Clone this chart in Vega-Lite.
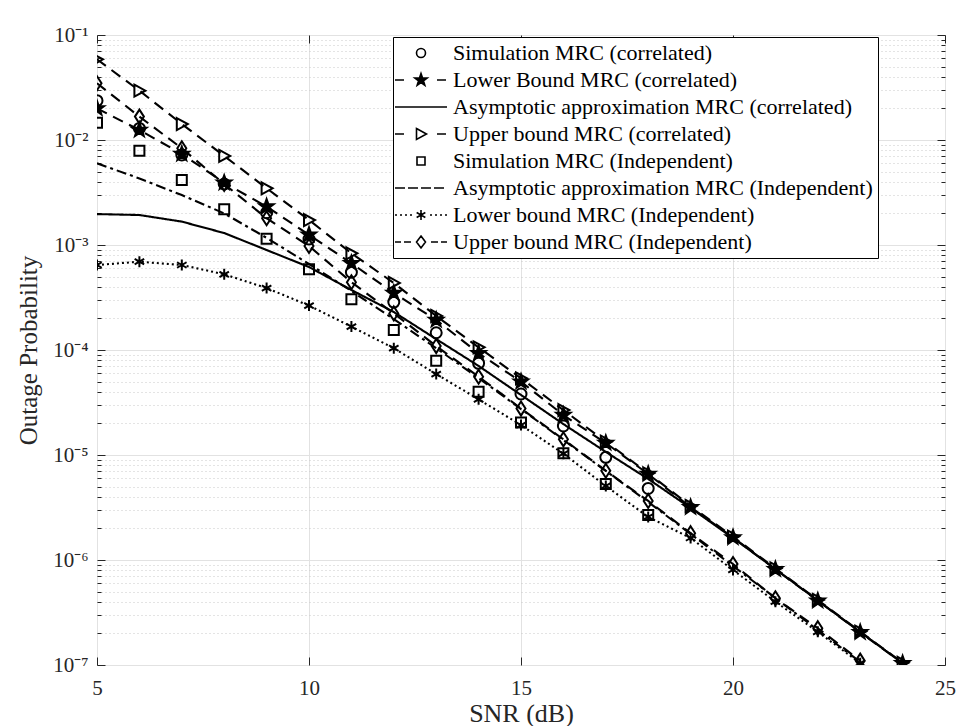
{
  "$schema": "https://vega.github.io/schema/vega-lite/v6.json",
  "width": 848,
  "height": 630,
  "autosize": {"type": "none"},
  "padding": {"left": 97, "top": 35, "right": 12, "bottom": 61},
  "background": "white",
  "config": {
    "font": "Liberation Serif",
    "view": {"stroke": "#262626", "strokeWidth": 1},
    "legend": {
      "orient": "none", "legendX": 296, "legendY": 2, "title": null,
      "labelFont": "Liberation Serif", "labelFontSize": 22, "labelColor": "black", "labelLimit": 600,
      "symbolSize": 100, "symbolStrokeWidth": 1.6, "symbolStrokeColor": "black", "symbolOpacity": 1,
      "symbolOffset": 12, "labelOffset": 21, "padding": 5, "rowPadding": 5,
      "strokeColor": "black", "fillColor": "white", "zindex": 2
    }
  },
  "data": {"values": [
    {"snr":5,"p":0.0237,"series":"Simulation MRC (correlated)"},
    {"snr":6,"p":0.0129,"series":"Simulation MRC (correlated)"},
    {"snr":7,"p":0.0072,"series":"Simulation MRC (correlated)"},
    {"snr":8,"p":0.00381,"series":"Simulation MRC (correlated)"},
    {"snr":9,"p":0.00203,"series":"Simulation MRC (correlated)"},
    {"snr":10,"p":0.00114,"series":"Simulation MRC (correlated)"},
    {"snr":11,"p":0.00055,"series":"Simulation MRC (correlated)"},
    {"snr":12,"p":0.000286,"series":"Simulation MRC (correlated)"},
    {"snr":13,"p":0.000146,"series":"Simulation MRC (correlated)"},
    {"snr":14,"p":7.47e-5,"series":"Simulation MRC (correlated)"},
    {"snr":15,"p":3.81e-5,"series":"Simulation MRC (correlated)"},
    {"snr":16,"p":1.89e-5,"series":"Simulation MRC (correlated)"},
    {"snr":17,"p":9.5e-6,"series":"Simulation MRC (correlated)"},
    {"snr":18,"p":4.8e-6,"series":"Simulation MRC (correlated)"},

    {"snr":5,"p":0.02,"series":"Lower Bound MRC (correlated)"},
    {"snr":6,"p":0.01245,"series":"Lower Bound MRC (correlated)"},
    {"snr":7,"p":0.00736,"series":"Lower Bound MRC (correlated)"},
    {"snr":8,"p":0.00392,"series":"Lower Bound MRC (correlated)"},
    {"snr":9,"p":0.00232,"series":"Lower Bound MRC (correlated)"},
    {"snr":10,"p":0.00125,"series":"Lower Bound MRC (correlated)"},
    {"snr":11,"p":0.00067,"series":"Lower Bound MRC (correlated)"},
    {"snr":12,"p":0.000349,"series":"Lower Bound MRC (correlated)"},
    {"snr":13,"p":0.000193,"series":"Lower Bound MRC (correlated)"},
    {"snr":14,"p":9.31e-5,"series":"Lower Bound MRC (correlated)"},
    {"snr":15,"p":4.99e-5,"series":"Lower Bound MRC (correlated)"},
    {"snr":16,"p":2.4e-5,"series":"Lower Bound MRC (correlated)"},
    {"snr":17,"p":1.3e-5,"series":"Lower Bound MRC (correlated)"},
    {"snr":18,"p":6.59e-6,"series":"Lower Bound MRC (correlated)"},
    {"snr":19,"p":3.18e-6,"series":"Lower Bound MRC (correlated)"},
    {"snr":20,"p":1.64e-6,"series":"Lower Bound MRC (correlated)"},
    {"snr":21,"p":8.15e-7,"series":"Lower Bound MRC (correlated)"},
    {"snr":22,"p":4.09e-7,"series":"Lower Bound MRC (correlated)"},
    {"snr":23,"p":2.05e-7,"series":"Lower Bound MRC (correlated)"},
    {"snr":24,"p":1.04e-7,"series":"Lower Bound MRC (correlated)"},

    {"snr":5,"p":0.00197,"series":"Asymptotic approximation MRC (correlated)"},
    {"snr":6,"p":0.00193,"series":"Asymptotic approximation MRC (correlated)"},
    {"snr":7,"p":0.00167,"series":"Asymptotic approximation MRC (correlated)"},
    {"snr":8,"p":0.0013,"series":"Asymptotic approximation MRC (correlated)"},
    {"snr":9,"p":0.000896,"series":"Asymptotic approximation MRC (correlated)"},
    {"snr":10,"p":0.000617,"series":"Asymptotic approximation MRC (correlated)"},
    {"snr":11,"p":0.000373,"series":"Asymptotic approximation MRC (correlated)"},
    {"snr":12,"p":0.00023,"series":"Asymptotic approximation MRC (correlated)"},
    {"snr":13,"p":0.000127,"series":"Asymptotic approximation MRC (correlated)"},
    {"snr":14,"p":7.05e-5,"series":"Asymptotic approximation MRC (correlated)"},
    {"snr":15,"p":3.73e-5,"series":"Asymptotic approximation MRC (correlated)"},
    {"snr":16,"p":1.97e-5,"series":"Asymptotic approximation MRC (correlated)"},
    {"snr":17,"p":1.07e-5,"series":"Asymptotic approximation MRC (correlated)"},
    {"snr":18,"p":5.91e-6,"series":"Asymptotic approximation MRC (correlated)"},
    {"snr":19,"p":3.13e-6,"series":"Asymptotic approximation MRC (correlated)"},
    {"snr":20,"p":1.62e-6,"series":"Asymptotic approximation MRC (correlated)"},
    {"snr":21,"p":8.2e-7,"series":"Asymptotic approximation MRC (correlated)"},
    {"snr":22,"p":4.11e-7,"series":"Asymptotic approximation MRC (correlated)"},
    {"snr":23,"p":2.06e-7,"series":"Asymptotic approximation MRC (correlated)"},
    {"snr":24,"p":1.04e-7,"series":"Asymptotic approximation MRC (correlated)"},

    {"snr":5,"p":0.0587,"series":"Upper bound MRC (correlated)"},
    {"snr":6,"p":0.0295,"series":"Upper bound MRC (correlated)"},
    {"snr":7,"p":0.0142,"series":"Upper bound MRC (correlated)"},
    {"snr":8,"p":0.00705,"series":"Upper bound MRC (correlated)"},
    {"snr":9,"p":0.00347,"series":"Upper bound MRC (correlated)"},
    {"snr":10,"p":0.00173,"series":"Upper bound MRC (correlated)"},
    {"snr":11,"p":0.000834,"series":"Upper bound MRC (correlated)"},
    {"snr":12,"p":0.000435,"series":"Upper bound MRC (correlated)"},
    {"snr":13,"p":0.000211,"series":"Upper bound MRC (correlated)"},
    {"snr":14,"p":0.000106,"series":"Upper bound MRC (correlated)"},
    {"snr":15,"p":5.37e-5,"series":"Upper bound MRC (correlated)"},
    {"snr":16,"p":2.68e-5,"series":"Upper bound MRC (correlated)"},
    {"snr":17,"p":1.34e-5,"series":"Upper bound MRC (correlated)"},
    {"snr":18,"p":6.7e-6,"series":"Upper bound MRC (correlated)"},
    {"snr":19,"p":3.27e-6,"series":"Upper bound MRC (correlated)"},
    {"snr":20,"p":1.67e-6,"series":"Upper bound MRC (correlated)"},
    {"snr":21,"p":8.3e-7,"series":"Upper bound MRC (correlated)"},
    {"snr":22,"p":4.16e-7,"series":"Upper bound MRC (correlated)"},
    {"snr":23,"p":2.08e-7,"series":"Upper bound MRC (correlated)"},
    {"snr":24,"p":1.05e-7,"series":"Upper bound MRC (correlated)"},

    {"snr":5,"p":0.0146,"series":"Simulation MRC (Independent)"},
    {"snr":6,"p":0.0079,"series":"Simulation MRC (Independent)"},
    {"snr":7,"p":0.00416,"series":"Simulation MRC (Independent)"},
    {"snr":8,"p":0.00219,"series":"Simulation MRC (Independent)"},
    {"snr":9,"p":0.00115,"series":"Simulation MRC (Independent)"},
    {"snr":10,"p":0.000587,"series":"Simulation MRC (Independent)"},
    {"snr":11,"p":0.000304,"series":"Simulation MRC (Independent)"},
    {"snr":12,"p":0.000155,"series":"Simulation MRC (Independent)"},
    {"snr":13,"p":7.9e-5,"series":"Simulation MRC (Independent)"},
    {"snr":14,"p":4.01e-5,"series":"Simulation MRC (Independent)"},
    {"snr":15,"p":2.04e-5,"series":"Simulation MRC (Independent)"},
    {"snr":16,"p":1.04e-5,"series":"Simulation MRC (Independent)"},
    {"snr":17,"p":5.3e-6,"series":"Simulation MRC (Independent)"},
    {"snr":18,"p":2.68e-6,"series":"Simulation MRC (Independent)"},

    {"snr":5,"p":0.006,"series":"Asymptotic approximation MRC (Independent)"},
    {"snr":6,"p":0.0043,"series":"Asymptotic approximation MRC (Independent)"},
    {"snr":7,"p":0.00299,"series":"Asymptotic approximation MRC (Independent)"},
    {"snr":8,"p":0.002,"series":"Asymptotic approximation MRC (Independent)"},
    {"snr":9,"p":0.00117,"series":"Asymptotic approximation MRC (Independent)"},
    {"snr":10,"p":0.000659,"series":"Asymptotic approximation MRC (Independent)"},
    {"snr":11,"p":0.000365,"series":"Asymptotic approximation MRC (Independent)"},
    {"snr":12,"p":0.000197,"series":"Asymptotic approximation MRC (Independent)"},
    {"snr":13,"p":0.000104,"series":"Asymptotic approximation MRC (Independent)"},
    {"snr":14,"p":5.41e-5,"series":"Asymptotic approximation MRC (Independent)"},
    {"snr":15,"p":2.74e-5,"series":"Asymptotic approximation MRC (Independent)"},
    {"snr":16,"p":1.39e-5,"series":"Asymptotic approximation MRC (Independent)"},
    {"snr":17,"p":7.05e-6,"series":"Asymptotic approximation MRC (Independent)"},
    {"snr":18,"p":3.57e-6,"series":"Asymptotic approximation MRC (Independent)"},
    {"snr":19,"p":1.77e-6,"series":"Asymptotic approximation MRC (Independent)"},
    {"snr":20,"p":8.77e-7,"series":"Asymptotic approximation MRC (Independent)"},
    {"snr":21,"p":4.35e-7,"series":"Asymptotic approximation MRC (Independent)"},
    {"snr":22,"p":2.15e-7,"series":"Asymptotic approximation MRC (Independent)"},
    {"snr":23,"p":1.07e-7,"series":"Asymptotic approximation MRC (Independent)"},

    {"snr":5,"p":0.000645,"series":"Lower bound MRC (Independent)"},
    {"snr":6,"p":0.000693,"series":"Lower bound MRC (Independent)"},
    {"snr":7,"p":0.000645,"series":"Lower bound MRC (Independent)"},
    {"snr":8,"p":0.000526,"series":"Lower bound MRC (Independent)"},
    {"snr":9,"p":0.000389,"series":"Lower bound MRC (Independent)"},
    {"snr":10,"p":0.000265,"series":"Lower bound MRC (Independent)"},
    {"snr":11,"p":0.000167,"series":"Lower bound MRC (Independent)"},
    {"snr":12,"p":0.000104,"series":"Lower bound MRC (Independent)"},
    {"snr":13,"p":5.9e-5,"series":"Lower bound MRC (Independent)"},
    {"snr":14,"p":3.39e-5,"series":"Lower bound MRC (Independent)"},
    {"snr":15,"p":1.93e-5,"series":"Lower bound MRC (Independent)"},
    {"snr":16,"p":1.03e-5,"series":"Lower bound MRC (Independent)"},
    {"snr":17,"p":5.07e-6,"series":"Lower bound MRC (Independent)"},
    {"snr":18,"p":2.57e-6,"series":"Lower bound MRC (Independent)"},
    {"snr":19,"p":1.62e-6,"series":"Lower bound MRC (Independent)"},
    {"snr":20,"p":8.04e-7,"series":"Lower bound MRC (Independent)"},
    {"snr":21,"p":4.01e-7,"series":"Lower bound MRC (Independent)"},
    {"snr":22,"p":2.07e-7,"series":"Lower bound MRC (Independent)"},
    {"snr":23,"p":1.04e-7,"series":"Lower bound MRC (Independent)"},

    {"snr":5,"p":0.0347,"series":"Upper bound MRC (Independent)"},
    {"snr":6,"p":0.0167,"series":"Upper bound MRC (Independent)"},
    {"snr":7,"p":0.00834,"series":"Upper bound MRC (Independent)"},
    {"snr":8,"p":0.00381,"series":"Upper bound MRC (Independent)"},
    {"snr":9,"p":0.0018,"series":"Upper bound MRC (Independent)"},
    {"snr":10,"p":0.000978,"series":"Upper bound MRC (Independent)"},
    {"snr":11,"p":0.000442,"series":"Upper bound MRC (Independent)"},
    {"snr":12,"p":0.000223,"series":"Upper bound MRC (Independent)"},
    {"snr":13,"p":0.000109,"series":"Upper bound MRC (Independent)"},
    {"snr":14,"p":5.57e-5,"series":"Upper bound MRC (Independent)"},
    {"snr":15,"p":2.77e-5,"series":"Upper bound MRC (Independent)"},
    {"snr":16,"p":1.41e-5,"series":"Upper bound MRC (Independent)"},
    {"snr":17,"p":7.08e-6,"series":"Upper bound MRC (Independent)"},
    {"snr":18,"p":3.65e-6,"series":"Upper bound MRC (Independent)"},
    {"snr":19,"p":1.8e-6,"series":"Upper bound MRC (Independent)"},
    {"snr":20,"p":9.16e-7,"series":"Upper bound MRC (Independent)"},
    {"snr":21,"p":4.32e-7,"series":"Upper bound MRC (Independent)"},
    {"snr":22,"p":2.24e-7,"series":"Upper bound MRC (Independent)"},
    {"snr":23,"p":1.1e-7,"series":"Upper bound MRC (Independent)"}
  ]},
  "resolve": {
    "scale": {"shape": "independent", "fill": "independent", "strokeDash": "independent"},
    "axis": {"x": "independent", "y": "independent"}
  },
  "layer": [
    {
      "transform": [{"filter": "indexof(datum.series, 'Simulation') < 0"}],
      "mark": {"type": "line", "color": "black", "strokeWidth": 2.1, "clip": true},
      "encoding": {
        "x": {"field": "snr", "type": "quantitative",
          "scale": {"domain": [5, 25], "nice": false, "zero": false},
          "axis": {"orient": "bottom", "title": "SNR (dB)", "values": [5, 10, 15, 20, 25],
            "labelFlush": false, "labelFontSize": 21, "labelColor": "#262626", "labelPadding": 20,
            "tickSize": -8, "tickColor": "#262626", "domain": false,
            "grid": true, "gridColor": "#e2e2e2",
            "titleFontSize": 26, "titleFontWeight": "normal", "titleColor": "#262626", "titlePadding": 2}},
        "y": {"field": "p", "type": "quantitative",
          "scale": {"type": "log", "domain": [1e-7, 0.1], "nice": false},
          "axis": {"orient": "left", "title": "Outage Probability",
            "values": [1e-7,2e-7,3e-7,4e-7,5e-7,6e-7,7e-7,8e-7,9e-7,1e-6,2e-6,3e-6,4e-6,5e-6,6e-6,7e-6,8e-6,9e-6,1e-5,2e-5,3e-5,4e-5,5e-5,6e-5,7e-5,8e-5,9e-5,1e-4,2e-4,3e-4,4e-4,5e-4,6e-4,7e-4,8e-4,9e-4,0.001,0.002,0.003,0.004,0.005,0.006,0.007,0.008,0.009,0.01,0.02,0.03,0.04,0.05,0.06,0.07,0.08,0.09,0.1],
            "labelExpr": "abs(log(datum.value)/LN10-round(log(datum.value)/LN10))<0.000001 ? '10' + ['','⁻¹','⁻²','⁻³','⁻⁴','⁻⁵','⁻⁶','⁻⁷'][-round(log(datum.value)/LN10)] : ''",
            "labelOverlap": false, "labelFontSize": 21, "labelColor": "#262626", "labelPadding": 17,
            "tickSize": {"condition": {"test": "abs(log(datum.value)/LN10-round(log(datum.value)/LN10))<0.000001", "value": -8}, "value": -4},
            "tickColor": "#262626", "domain": false,
            "grid": true,
            "gridColor": {"condition": {"test": "abs(log(datum.value)/LN10-round(log(datum.value)/LN10))<0.000001", "value": "#e2e2e2"}, "value": "#c8c8c8"},
            "gridDash": {"condition": {"test": "abs(log(datum.value)/LN10-round(log(datum.value)/LN10))<0.000001", "value": []}, "value": [1, 3]},
            "titleFontSize": 25, "titleFontWeight": "normal", "titleColor": "#262626", "titlePadding": 11}},
        "strokeDash": {"field": "series", "type": "nominal", "legend": null,
          "scale": {"domain": ["Lower Bound MRC (correlated)", "Asymptotic approximation MRC (correlated)", "Upper bound MRC (correlated)", "Asymptotic approximation MRC (Independent)", "Lower bound MRC (Independent)", "Upper bound MRC (Independent)"],
            "range": [[11, 7], [1, 0], [11, 7], [10, 4, 3, 4], [2, 3], [11, 7]]}}
      }
    },
    {
      "transform": [{"filter": "indexof(datum.series, 'Asymptotic') < 0"}],
      "mark": {"type": "point", "stroke": "black", "strokeWidth": 2, "size": 100, "opacity": 1, "clip": true},
      "encoding": {
        "x": {"field": "snr", "type": "quantitative",
          "axis": {"orient": "top", "title": null, "values": [5, 10, 15, 20, 25], "labels": false,
            "tickSize": -8, "tickColor": "#262626", "domain": false, "grid": false}},
        "y": {"field": "p", "type": "quantitative",
          "axis": {"orient": "right", "title": null, "labels": false,
            "values": [1e-7,2e-7,3e-7,4e-7,5e-7,6e-7,7e-7,8e-7,9e-7,1e-6,2e-6,3e-6,4e-6,5e-6,6e-6,7e-6,8e-6,9e-6,1e-5,2e-5,3e-5,4e-5,5e-5,6e-5,7e-5,8e-5,9e-5,1e-4,2e-4,3e-4,4e-4,5e-4,6e-4,7e-4,8e-4,9e-4,0.001,0.002,0.003,0.004,0.005,0.006,0.007,0.008,0.009,0.01,0.02,0.03,0.04,0.05,0.06,0.07,0.08,0.09,0.1],
            "tickSize": {"condition": {"test": "abs(log(datum.value)/LN10-round(log(datum.value)/LN10))<0.000001", "value": -8}, "value": -4},
            "tickColor": "#262626", "domain": false, "grid": false}},
        "shape": {"field": "series", "type": "nominal", "legend": null,
          "scale": {"domain": ["Simulation MRC (correlated)", "Lower Bound MRC (correlated)", "Upper bound MRC (correlated)", "Simulation MRC (Independent)", "Lower bound MRC (Independent)", "Upper bound MRC (Independent)"],
            "range": [
              "M-1.1,0A1.1,1.1 0 1,0 1.1,0A1.1,1.1 0 1,0 -1.1,0Z",
              "M0,-1.5L0.353,-0.485L1.427,-0.464L0.571,0.185L0.882,1.214L0,0.6L-0.882,1.214L-0.571,0.185L-1.427,-0.464L-0.353,-0.485Z",
              "M-1,-1.2L1.2,0L-1,1.2Z",
              "M-1,-1H1V1H-1Z",
              "M0,-1.1V1.1M-0.95,-0.55L0.95,0.55M-0.95,0.55L0.95,-0.55",
              "M0,-1.4L0.9,0L0,1.4L-0.9,0Z"]}},
        "fill": {"field": "series", "type": "nominal", "legend": null,
          "scale": {"domain": ["Simulation MRC (correlated)", "Lower Bound MRC (correlated)", "Upper bound MRC (correlated)", "Simulation MRC (Independent)", "Lower bound MRC (Independent)", "Upper bound MRC (Independent)"],
            "range": ["transparent", "black", "transparent", "transparent", "transparent", "transparent"]}}
      }
    },
    {
      "transform": [{"filter": "false"}],
      "mark": {"type": "point", "stroke": "black", "strokeWidth": 1.6, "opacity": 1},
      "encoding": {
        "shape": {"field": "series", "type": "nominal",
          "legend": {"encode": {"symbols": {"update": {"stroke": {"value": "black"}, "strokeWidth": {"value": 1.6}, "opacity": {"value": 1}}}}},
          "scale": {"domain": ["Simulation MRC (correlated)", "Lower Bound MRC (correlated)", "Asymptotic approximation MRC (correlated)", "Upper bound MRC (correlated)", "Simulation MRC (Independent)", "Asymptotic approximation MRC (Independent)", "Lower bound MRC (Independent)", "Upper bound MRC (Independent)"],
            "range": [
              "M-0.9,0A0.9,0.9 0 1,0 0.9,0A0.9,0.9 0 1,0 -0.9,0Z",
              "M-5.2,0H-3.4M3.2,0H5M0,-1.3L0.306,-0.42L1.237,-0.402L0.495,0.16L0.764,1.052L0,0.52L-0.764,1.052L-0.495,0.16L-1.237,-0.402L-0.306,-0.42Z",
              "M-5.2,0H5.2",
              "M-5.2,0H-3.4M3.2,0H5M-0.9,-1.1L1.1,0L-0.9,1.1Z",
              "M-0.8,-0.8H0.8V0.8H-0.8Z",
              "M-5.2,0H-3.2M-2.6,0H-0.6M0,0H2M2.6,0H4.6",
              "M-5.2,0H-4.8M-4.2,0H-3.8M-3.2,0H-2.8M-2.2,0H-1.8M1.8,0H2.2M2.8,0H3.2M3.8,0H4.2M4.8,0H5.2M0,-1V1M-0.87,-0.5L0.87,0.5M-0.87,0.5L0.87,-0.5",
              "M-5.2,0H-4M-3.4,0H-2M2,0H3.4M4,0H5.2M0,-1.2L0.9,0L0,1.2L-0.9,0Z"]}},
        "fill": {"field": "series", "type": "nominal",
          "legend": {"encode": {"symbols": {"update": {"stroke": {"value": "black"}, "strokeWidth": {"value": 1.6}, "opacity": {"value": 1}}}}},
          "scale": {"domain": ["Simulation MRC (correlated)", "Lower Bound MRC (correlated)", "Asymptotic approximation MRC (correlated)", "Upper bound MRC (correlated)", "Simulation MRC (Independent)", "Asymptotic approximation MRC (Independent)", "Lower bound MRC (Independent)", "Upper bound MRC (Independent)"],
            "range": ["transparent", "black", "transparent", "transparent", "transparent", "transparent", "transparent", "transparent"]}}
      }
    }
  ]
}
